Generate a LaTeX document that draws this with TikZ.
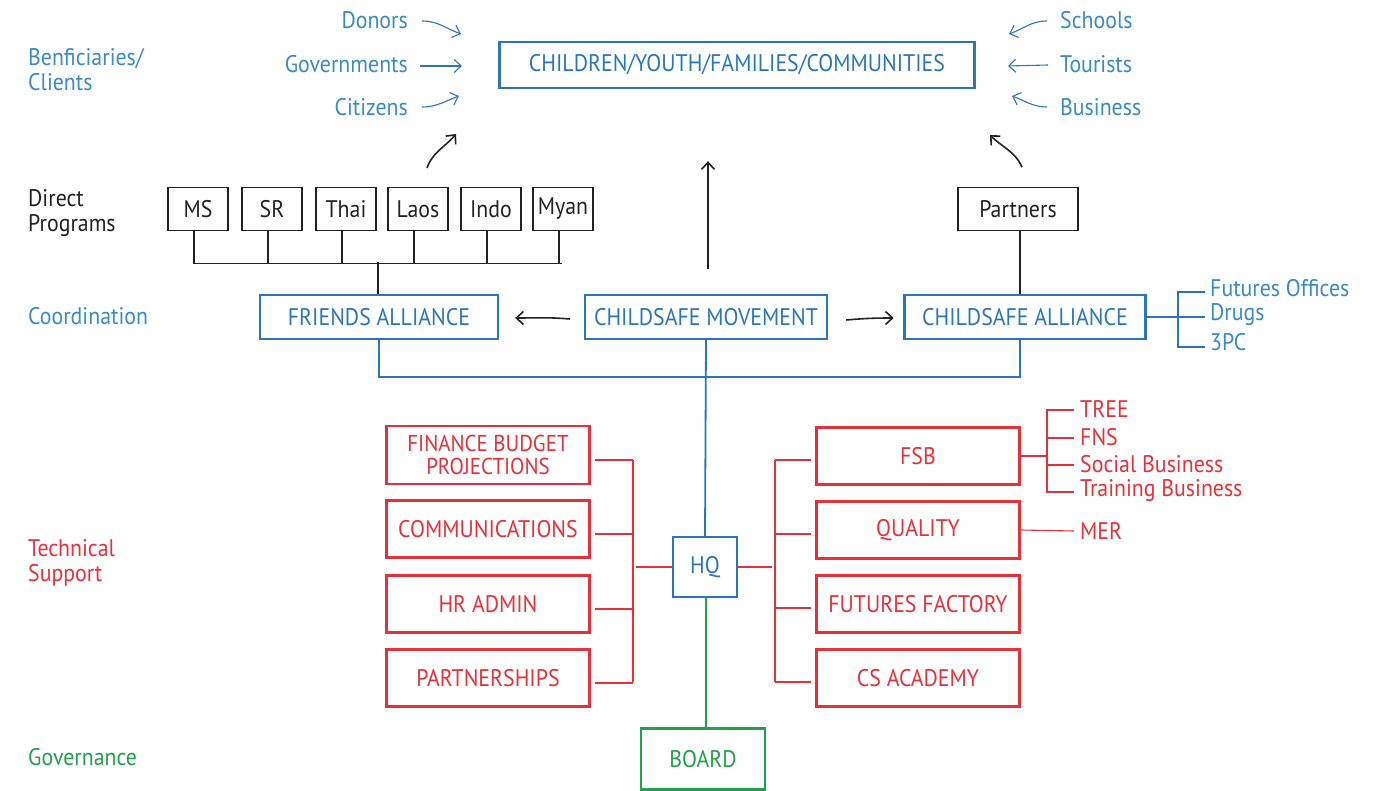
\documentclass[tikz,border=0pt]{standalone}
\usepackage{fontspec}
\setmainfont[FakeStretch=0.91]{PT Sans}
\usetikzlibrary{arrows.meta,calc}
\definecolor{cblue}{HTML}{2B76B9}
\definecolor{tblue}{HTML}{3A8AC4}
\definecolor{cred}{HTML}{E8303A}
\definecolor{cgreen}{HTML}{23A04B}
\definecolor{cblack}{HTML}{222222}
\begin{document}
\begin{tikzpicture}[x=1pt,y=-1pt,
  box/.style={draw=#1, text=#1, line width=2.4pt, inner sep=0pt, align=center,
    font=\fontsize{24}{21}\selectfont},
  pbox/.style={box=cblack, line width=1.8pt, minimum width=60pt, minimum height=43pt},
  lbl/.style={anchor=west, align=left, text=#1, inner sep=0pt, font=\fontsize{24}{25}\selectfont},
  rlbl/.style={anchor=east, text=tblue, inner sep=0pt, font=\fontsize{24}{24}\selectfont},
  bar/.style={draw=#1, line width=1.8pt},
  barb/.style={-{Straight Barb[length=7pt,width=13pt]}},
  ]
\useasboundingbox (0,0) rectangle (1385,791);

% row labels
\node[lbl=tblue] (lben) at (28,70) {Benficiaries/\\Clients};
\node[lbl=cblack] (ldir) at (28,213) {Direct\\Programs};
\node[lbl=tblue] (lcoo) at (28,316) {Coordination};
\node[lbl=cred] (ltec) at (28,563) {Technical\\Support};
\node[lbl=cgreen] (lgov) at (28,757) {Governance};

% top box
\node[box=cblue, minimum width=475pt, minimum height=46pt] (top) at (737,65) {CHILDREN/YOUTH/FAMILIES/COMMUNITIES};

% side labels
\node[rlbl] (donors) at (408,20) {Donors};
\node[rlbl] (gov) at (408,64) {Governments};
\node[rlbl] (cit) at (408,107) {Citizens};
\node[rlbl, anchor=west] (sch) at (1060,20) {Schools};
\node[rlbl, anchor=west] (tour) at (1060,64) {Tourists};
\node[rlbl, anchor=west] (bus) at (1060,107) {Business};

\draw[cblue, line width=1.1pt, barb] ($(donors.east)+(14,1)$) to[out=0,in=160] (461,34);
\draw[cblue, line width=1.1pt, barb] ($(gov.east)+(12,2)$) -- (462,66);
\draw[cblue, line width=1.1pt, barb] ($(cit.east)+(14,0)$) to[out=0,in=-160] (459,96);
\draw[cblue, line width=1.1pt, barb] ($(sch.west)+(-13,1)$) to[out=180,in=20] (1009,34);
\draw[cblue, line width=1.1pt, barb] ($(tour.west)+(-12,1)$) -- (1008,66);
\draw[cblue, line width=1.1pt, barb] ($(bus.west)+(-13,0)$) to[out=180,in=-20] (1012,96);

% direct programs
\node[pbox] (ms) at (198,209) {MS};
\node[pbox] (sr) at (272,209) {SR};
\node[pbox] (thai) at (346,209) {Thai};
\node[pbox] (laos) at (418,209) {Laos};
\node[pbox] (indo) at (491,209) {Indo};
\node[pbox] (myan) at (563,209) {Myan};
\node[pbox, minimum width=120pt] (part) at (1018,209) {Partners};

% coordination
\node[box=cblue, minimum width=238pt, minimum height=44pt] (fa) at (379,317) {FRIENDS ALLIANCE};
\node[box=cblue, minimum width=242pt, minimum height=44pt] (mov) at (706,317) {CHILDSAFE MOVEMENT};
\node[box=cblue, minimum width=241pt, minimum height=44pt] (ca) at (1025,317) {CHILDSAFE ALLIANCE};

% program bar
\foreach \n in {ms,sr,thai,laos,indo,myan}
  \draw[bar=cblack, line width=1.4pt] ($(\n.south)+(-4,0)$) -- ($(\n.south)+(-4,32)$);
\draw[bar=cblack, line width=1.4pt] ($(ms.south)+(-5,32)$) -- ($(myan.south)+(-1,32)$);
\draw[bar=cblack, line width=1.4pt] ($(fa.north)+(-1,-32)$) -- ($(fa.north)+(-1,0)$);
\draw[bar=cblack, line width=1.4pt] ($(part.south)+(2,0)$) -- ($(ca.north)+(-5,0)$);

% black arrows
\coordinate (a1s) at (427,168);
\coordinate (a1e) at (456,134);
\draw[cblack, line width=1.6pt, barb] (a1s) to[out=70,in=-130] (a1e);
\coordinate (a3s) at (1022,167);
\draw[cblack, line width=1.6pt, barb] (a3s) to[out=115,in=-45] (990,135);
\draw[cblack, line width=1.6pt, barb] ($(mov.north)+(2,-25)$) -- ($(top.south)+(-29,72)$);
\draw[cblack, line width=1.6pt, barb] ($(mov.west)+(-14,2)$) to[out=175,in=0] ($(fa.east)+(16,1)$);
\draw[cblack, line width=1.6pt, barb] ($(mov.east)+(18,3)$) to[out=5,in=180] ($(ca.east)+(-253,1)$);

% childsafe alliance list
\node[rlbl, anchor=west] (fo) at (1210,288) {Futures Offices};
\node[rlbl, anchor=west] (drugs) at (1210,315) {Drugs};
\node[rlbl, anchor=west] (pc) at (1210,342) {3PC};
\draw[bar=cblue, line width=1.1pt] (ca.east) -- ($(drugs.west)+(-5,2)$);
\draw[bar=cblue, line width=1.1pt] ($(fo.west)+(-5,4)$) -- ++(-27,0) |- ($(pc.west)+(-5,5)$);

% blue bracket and HQ
\node[box=cblue, minimum width=64pt, minimum height=60pt] (hq) at (705,567) {HQ};
\draw[bar=cblue] (fa.south) -- ++(0,37) -| ($(ca.south)+(-5,0)$);
\draw[bar=cblue] (mov.south) -- (hq.north);

% board
\node[box=cgreen, minimum width=124pt, minimum height=61pt] (board) at (703,759) {BOARD};
\draw[bar=cgreen] ($(hq.south)+(1,0)$) -- ($(board.north)+(3,0)$);

% left red boxes
\node[box=cred, minimum width=203pt, minimum height=58pt, font=\fontsize{23}{23}\selectfont] (fin) at (488,455) {FINANCE BUDGET\\PROJECTIONS};
\node[box=cred, minimum width=203pt, minimum height=57pt] (comm) at (488,529) {COMMUNICATIONS};
\node[box=cred, minimum width=203pt, minimum height=57pt] (hr) at (488,604) {HR ADMIN};
\node[box=cred, minimum width=203pt, minimum height=57pt] (pship) at (488,678) {PARTNERSHIPS};
\foreach \n in {fin,comm,hr,pship}
  \draw[bar=cred] ($(\n.east)+(4,5)$) -- ++(38,0);
\draw[bar=cred] ($(fin.east)+(42,5)$) -- ($(pship.east)+(42,4)$);
\draw[bar=cred] (hq.west) -- ++(-36,0);

% right red boxes
\node[box=cred, minimum width=203pt, minimum height=57pt] (fsb) at (918,456) {FSB};
\node[box=cred, minimum width=203pt, minimum height=57pt] (qual) at (918,530) {QUALITY};
\node[box=cred, minimum width=203pt, minimum height=57pt] (ff) at (918,604) {FUTURES FACTORY};
\node[box=cred, minimum width=203pt, minimum height=57pt] (csa) at (918,678) {CS ACADEMY};
\foreach \n in {fsb,qual,ff,csa}
  \draw[bar=cred] ($(\n.west)+(-4,4)$) -- ++(-36,0);
\draw[bar=cred] ($(fsb.west)+(-40,4)$) -- ($(csa.west)+(-40,4)$);
\draw[bar=cred] (hq.east) -- ++(34,0);

% FSB list
\node[rlbl, anchor=west, text=cred] (tree) at (1080,409) {TREE};
\node[rlbl, anchor=west, text=cred] (fns) at (1080,437) {FNS};
\node[rlbl, anchor=west, text=cred] (sb) at (1080,464) {Social Business};
\node[rlbl, anchor=west, text=cred] (tb) at (1080,491) {Training Business};
\node[rlbl, anchor=west, text=cred] (mer) at (1080,531) {MER};
\draw[bar=cred, line width=1.1pt] (fsb.east) -- ++(27,0);
\draw[bar=cred, line width=1.1pt] ($(tree.west)+(-6,1)$) -- ++(-27,0) |- ($(tb.west)+(-6,1)$);
\draw[bar=cred, line width=1.1pt] ($(fns.west)+(-6,1)$) -- ++(-27,0);
\draw[bar=cred, line width=1.1pt] ($(sb.west)+(-6,1)$) -- ++(-27,0);
\draw[bar=cred, line width=1.1pt] (qual.east) -- ($(mer.west)+(-6,0)$);
\end{tikzpicture}
\end{document}
